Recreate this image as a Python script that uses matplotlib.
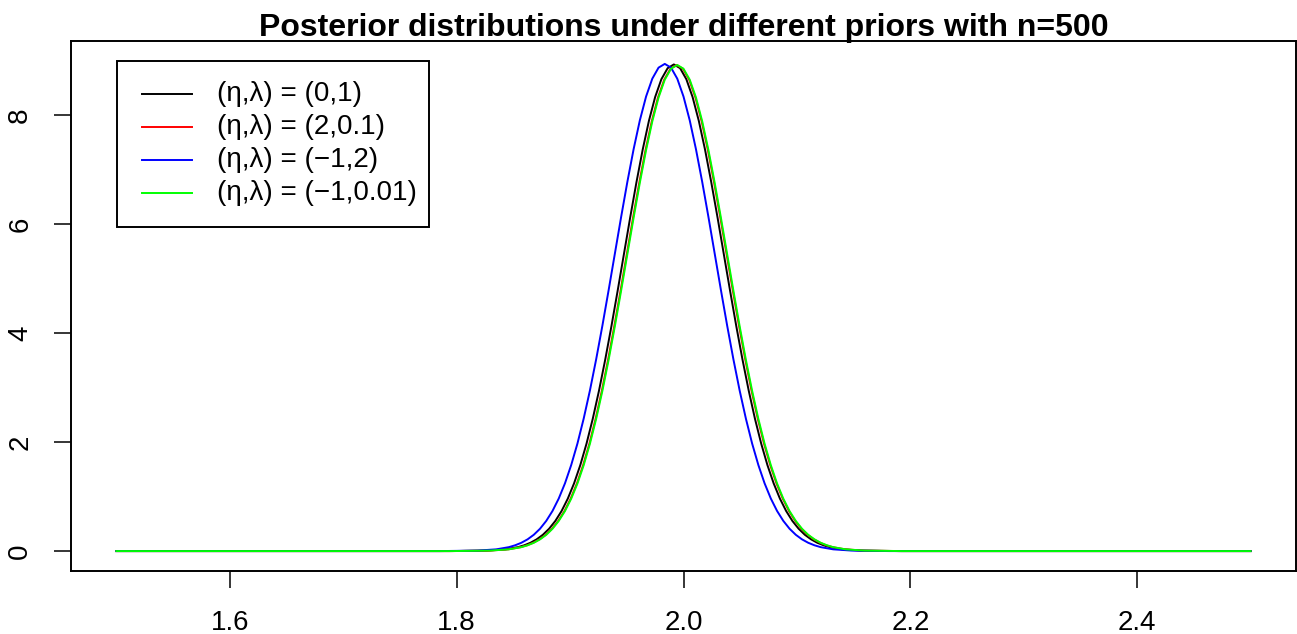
import matplotlib
matplotlib.use("Agg")
import matplotlib.pyplot as plt
from matplotlib.patches import Rectangle
from matplotlib.lines import Line2D

plt.rcParams['font.family'] = ['Liberation Sans', 'DejaVu Sans']

title = "Posterior distributions under different priors with n=500"
labels = ["(\u03b7,\u03bb) = (0,1)", "(\u03b7,\u03bb) = (2,0.1)",
          "(\u03b7,\u03bb) = (\u22121,2)", "(\u03b7,\u03bb) = (\u22121,0.01)"]
colors = ["#000000", "#FF0000", "#0000FF", "#00FF00"]

xticks = [1.6, 1.8, 2.0, 2.2, 2.4]
yticks = [0, 2, 4, 6, 8]

# values (density curves)
blue_x = [1.5000, 1.7855, 1.8185, 1.8350,
          1.8460, 1.8515, 1.8570, 1.8625, 1.8680, 1.8735, 1.8790, 1.8845, 1.8900, 1.8955,
          1.9010, 1.9065, 1.9120, 1.9175, 1.9230, 1.9285, 1.9340, 1.9395, 1.9450, 1.9505,
          1.9560, 1.9615, 1.9670, 1.9725, 1.9780, 1.9835, 1.9890, 1.9945, 2.0000, 2.0055,
          2.0110, 2.0165, 2.0220, 2.0275, 2.0330, 2.0385, 2.0440, 2.0495, 2.0550, 2.0605,
          2.0660, 2.0715, 2.0770, 2.0825, 2.0880, 2.0935, 2.0990, 2.1045, 2.1100, 2.1155,
          2.1210, 2.1320, 2.1485, 2.1815, 2.5000]
blue_y = [0, 0, 0.009, 0.032,
          0.072, 0.106, 0.152, 0.215, 0.299, 0.410, 0.554, 0.736, 0.964, 1.243,
          1.579, 1.974, 2.431, 2.947, 3.519, 4.137, 4.789, 5.459, 6.129, 6.774,
          7.373, 7.903, 8.341, 8.669, 8.871, 8.940, 8.871, 8.669, 8.341, 7.903,
          7.373, 6.774, 6.129, 5.459, 4.789, 4.137, 3.519, 2.947, 2.431, 1.974,
          1.579, 1.243, 0.964, 0.736, 0.554, 0.410, 0.299, 0.215, 0.152, 0.106,
          0.072, 0.032, 0.009, 0, 0]

black_x = [1.5000, 1.7935, 1.8265, 1.8430,
           1.8540, 1.8595, 1.8650, 1.8705, 1.8760, 1.8815, 1.8870, 1.8925, 1.8980, 1.9035,
           1.9090, 1.9145, 1.9200, 1.9255, 1.9310, 1.9365, 1.9420, 1.9475, 1.9530, 1.9585,
           1.9640, 1.9695, 1.9750, 1.9805, 1.9860, 1.9915, 1.9970, 2.0025, 2.0080, 2.0135,
           2.0190, 2.0245, 2.0300, 2.0355, 2.0410, 2.0465, 2.0520, 2.0575, 2.0630, 2.0685,
           2.0740, 2.0795, 2.0850, 2.0905, 2.0960, 2.1015, 2.1070, 2.1125, 2.1180, 2.1235,
           2.1290, 2.1400, 2.1565, 2.1895, 2.5000]
black_y = [0, 0, 0.009, 0.032,
           0.072, 0.106, 0.152, 0.215, 0.299, 0.410, 0.553, 0.735, 0.963, 1.242,
           1.577, 1.972, 2.428, 2.944, 3.515, 4.132, 4.784, 5.453, 6.122, 6.766,
           7.365, 7.894, 8.332, 8.659, 8.861, 8.930, 8.861, 8.659, 8.332, 7.894,
           7.365, 6.766, 6.122, 5.453, 4.784, 4.132, 3.515, 2.944, 2.428, 1.972,
           1.577, 1.242, 0.963, 0.735, 0.553, 0.410, 0.299, 0.215, 0.152, 0.106,
           0.072, 0.032, 0.009, 0, 0]

red_x = [1.5000, 1.7960, 1.8290, 1.8455,
         1.8565, 1.8620, 1.8675, 1.8730, 1.8785, 1.8840, 1.8895, 1.8950, 1.9005, 1.9060,
         1.9115, 1.9170, 1.9225, 1.9280, 1.9335, 1.9390, 1.9445, 1.9500, 1.9555, 1.9610,
         1.9665, 1.9720, 1.9775, 1.9830, 1.9885, 1.9940, 1.9995, 2.0050, 2.0105, 2.0160,
         2.0215, 2.0270, 2.0325, 2.0380, 2.0435, 2.0490, 2.0545, 2.0600, 2.0655, 2.0710,
         2.0765, 2.0820, 2.0875, 2.0930, 2.0985, 2.1040, 2.1095, 2.1150, 2.1205, 2.1260,
         2.1315, 2.1425, 2.1590, 2.1920, 2.5000]
red_y = [0, 0, 0.009, 0.032,
         0.072, 0.106, 0.152, 0.215, 0.298, 0.409, 0.553, 0.734, 0.962, 1.240,
         1.576, 1.970, 2.426, 2.941, 3.511, 4.128, 4.778, 5.447, 6.115, 6.759,
         7.357, 7.886, 8.323, 8.650, 8.851, 8.920, 8.851, 8.650, 8.323, 7.886,
         7.357, 6.759, 6.115, 5.447, 4.778, 4.128, 3.511, 2.941, 2.426, 1.970,
         1.576, 1.240, 0.962, 0.734, 0.553, 0.409, 0.298, 0.215, 0.152, 0.106,
         0.072, 0.032, 0.009, 0, 0]

green_x = [1.5000, 1.7965, 1.8295, 1.8460,
           1.8570, 1.8625, 1.8680, 1.8735, 1.8790, 1.8845, 1.8900, 1.8955, 1.9010, 1.9065,
           1.9120, 1.9175, 1.9230, 1.9285, 1.9340, 1.9395, 1.9450, 1.9505, 1.9560, 1.9615,
           1.9670, 1.9725, 1.9780, 1.9835, 1.9890, 1.9945, 2.0000, 2.0055, 2.0110, 2.0165,
           2.0220, 2.0275, 2.0330, 2.0385, 2.0440, 2.0495, 2.0550, 2.0605, 2.0660, 2.0715,
           2.0770, 2.0825, 2.0880, 2.0935, 2.0990, 2.1045, 2.1100, 2.1155, 2.1210, 2.1265,
           2.1320, 2.1430, 2.1595, 2.1925, 2.5000]
green_y = [0, 0, 0.009, 0.032,
           0.072, 0.106, 0.152, 0.215, 0.298, 0.409, 0.553, 0.734, 0.962, 1.240,
           1.576, 1.970, 2.426, 2.941, 3.511, 4.128, 4.778, 5.447, 6.115, 6.759,
           7.357, 7.886, 8.323, 8.650, 8.851, 8.920, 8.851, 8.650, 8.323, 7.886,
           7.357, 6.759, 6.115, 5.447, 4.778, 4.128, 3.511, 2.941, 2.426, 1.970,
           1.576, 1.240, 0.962, 0.734, 0.553, 0.409, 0.298, 0.215, 0.152, 0.106,
           0.072, 0.032, 0.009, 0, 0]

W, H = 1297, 634
fig = plt.figure(figsize=(W / 100, H / 100), dpi=100)

L, R, T, B = 71, 1296, 41, 570.7
ax = fig.add_axes([L / W, 1 - B / H, (R - L) / W, (B - T) / H])

lw = 1.4
series = [(black_x, black_y), (red_x, red_y), (blue_x, blue_y), (green_x, green_y)]
for (xs, ys), c in zip(series, colors):
    ax.plot(xs, ys, color=c, lw=lw, solid_joinstyle='round')

ax.set_xlim(1.46, 2.54)
ax.set_ylim(-0.36, 9.36)
ax.set_xticks(xticks)
ax.set_xticklabels([f"{v:.1f}" for v in xticks])
ax.set_yticks(yticks)
ax.set_yticklabels([str(v) for v in yticks], rotation=90, va='center')
ax.tick_params(axis='both', length=12.2, width=1.1, labelsize=20, colors='black')
ax.tick_params(axis='x', pad=16)
ax.tick_params(axis='y', pad=15)
for s in ax.spines.values():
    s.set_linewidth(1.4)

fig.text(683.5 / W, 1 - 36 / H, title, ha='center', va='baseline',
         fontsize=23, fontweight='bold')

# legend box drawn in figure pixel positions
lx0, lx1, ly0, ly1 = 116.7, 429.3, 61, 226.7
fig.add_artist(Rectangle((lx0 / W, 1 - ly1 / H), (lx1 - lx0) / W, (ly1 - ly0) / H,
                         transform=fig.transFigure, fill=False, edgecolor='black', lw=1.4))
rows = [94.3, 127.3, 160.3, 193.3]
for yy, c, lab in zip(rows, colors, labels):
    fig.add_artist(Line2D([141.7 / W, 191.7 / W], [1 - yy / H, 1 - yy / H],
                          transform=fig.transFigure, color=c, lw=lw))
    fig.text(216.7 / W, 1 - yy / H, lab, ha='left', va='center', fontsize=20)

fig.savefig("out.png", dpi=100)
